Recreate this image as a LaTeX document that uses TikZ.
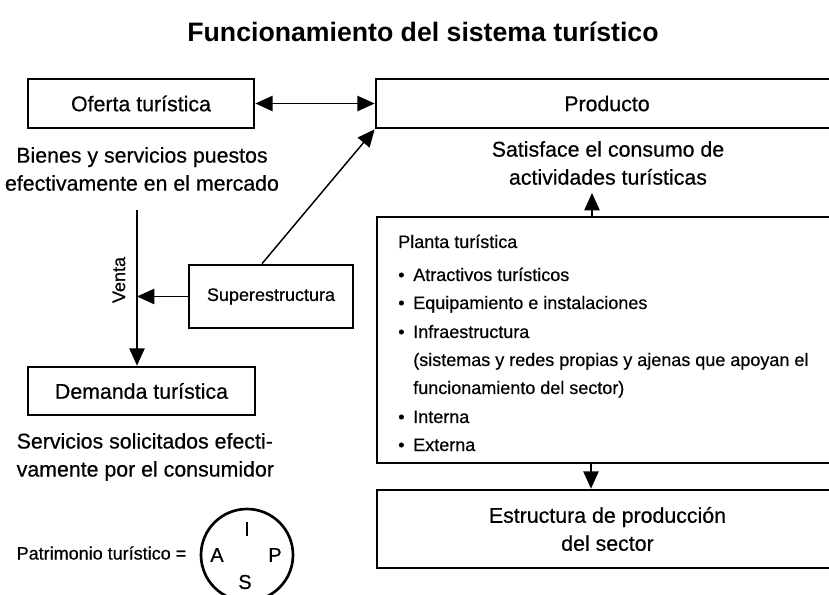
\documentclass[tikz,border=0pt]{standalone}
\usepackage{fontspec}
\setmainfont{Liberation Sans}
\newfontfamily\medfont[FakeBold=0.5]{Liberation Sans}
\usetikzlibrary{arrows.meta,calc}
\begin{document}
\begin{tikzpicture}[x=0.75pt,y=-0.75pt,
  >={Triangle[length=13pt,width=11.5pt]},
  box/.style={draw,line width=2pt,rectangle,inner sep=0pt,align=center},
  big/.style={font=\medfont\fontsize{16}{21}\selectfont},
  small/.style={font=\medfont\fontsize{13.5}{20}\selectfont},
  conn/.style={line width=1.1pt},
  item/.style={small,anchor=base west,inner sep=0pt},
  dot/.style={small,anchor=base west,inner sep=0pt},
  letter/.style={font=\medfont\fontsize{15}{18}\selectfont,inner sep=0pt}
]
\useasboundingbox (0,0) rectangle (829,595);

% title
\node[font=\bfseries\fontsize{20}{24}\selectfont] (title) at (423,32) {Funcionamiento del sistema turístico};

% boxes
\node[box,big,minimum width=169.5pt,minimum height=36.75pt] (of) at (141,103.5) {Oferta turística};
\node[box,big,minimum width=346.5pt,minimum height=36.75pt] (prod) at (607,103.5) {Producto};
\node[box,small,minimum width=123pt,minimum height=47.25pt] (sup) at (271,296.5) {Superestructura};
\node[box,big,minimum width=170.25pt,minimum height=36pt] (dem) at (141.5,391) {Demanda turística};
\node[box,minimum width=345.75pt,minimum height=184.5pt] (planta) at (607.5,340) {};
\node[box,big,minimum width=345.75pt,minimum height=58.5pt] (estr) at (607.5,529) {Estructura de producción\\del sector};

% descriptions
\node[big,align=center] (bienes) at (142,169) {Bienes y servicios puestos\\efectivamente en el mercado};
\node[big,align=center] (sat) at (608,163) {Satisface el consumo de\\actividades turísticas};
\node[big,align=left,anchor=west] (serv) at (12,457) {Servicios solicitados efecti-\\vamente por el consumidor};

% planta contents
\node[item] (p0) at (398,248) {Planta turística};
\node[dot] (b1) at (398,281) {•};
\node[item] (p1) at (413,281) {Atractivos turísticos};
\node[dot] (b2) at (398,309) {•};
\node[item] (p2) at (413,309) {Equipamiento e instalaciones};
\node[dot] (b3) at (398,338) {•};
\node[item] (p3) at (413,338) {Infraestructura};
\node[item] (p4) at (413,366) {(sistemas y redes propias y ajenas que apoyan el};
\node[item] (p5) at (413,394) {funcionamiento del sector)};
\node[dot] (b4) at (398,423) {•};
\node[item] (p6) at (413,423) {Interna};
\node[dot] (b5) at (398,451) {•};
\node[item] (p7) at (413,451) {Externa};

% patrimonio
\node[small,anchor=west] (patr) at (12,553) {Patrimonio turístico =};
\node[draw,circle,line width=2pt,minimum size=69pt,inner sep=0pt] (circ) at (247,555) {};
\node[letter] (lI) at (247,529) {I};
\node[letter] (lA) at (217,555) {A};
\node[letter] (lP) at (275,555) {P};
\node[letter] (lS) at (245,582) {S};

% connectors
\draw[conn,<->] (of.east) -- (prod.west);
\draw[conn,->] ($(sup.north west)!0.446!(sup.north east)$) -- (prod.south west);
\coordinate (vtop) at (137,210);
\draw[conn,->] (vtop) -- (vtop |- dem.north);
\draw[conn,->] (sup.west) -- (vtop |- sup.west);
\node[small,rotate=90] (venta) at (119,280) {Venta};
\coordinate (upt) at (592,193);
\draw[conn,->] (upt |- planta.north) -- (upt);
\coordinate (dnx) at (591,0);
\draw[conn,->] (dnx |- planta.south) -- (dnx |- estr.north);
\end{tikzpicture}
\end{document}
